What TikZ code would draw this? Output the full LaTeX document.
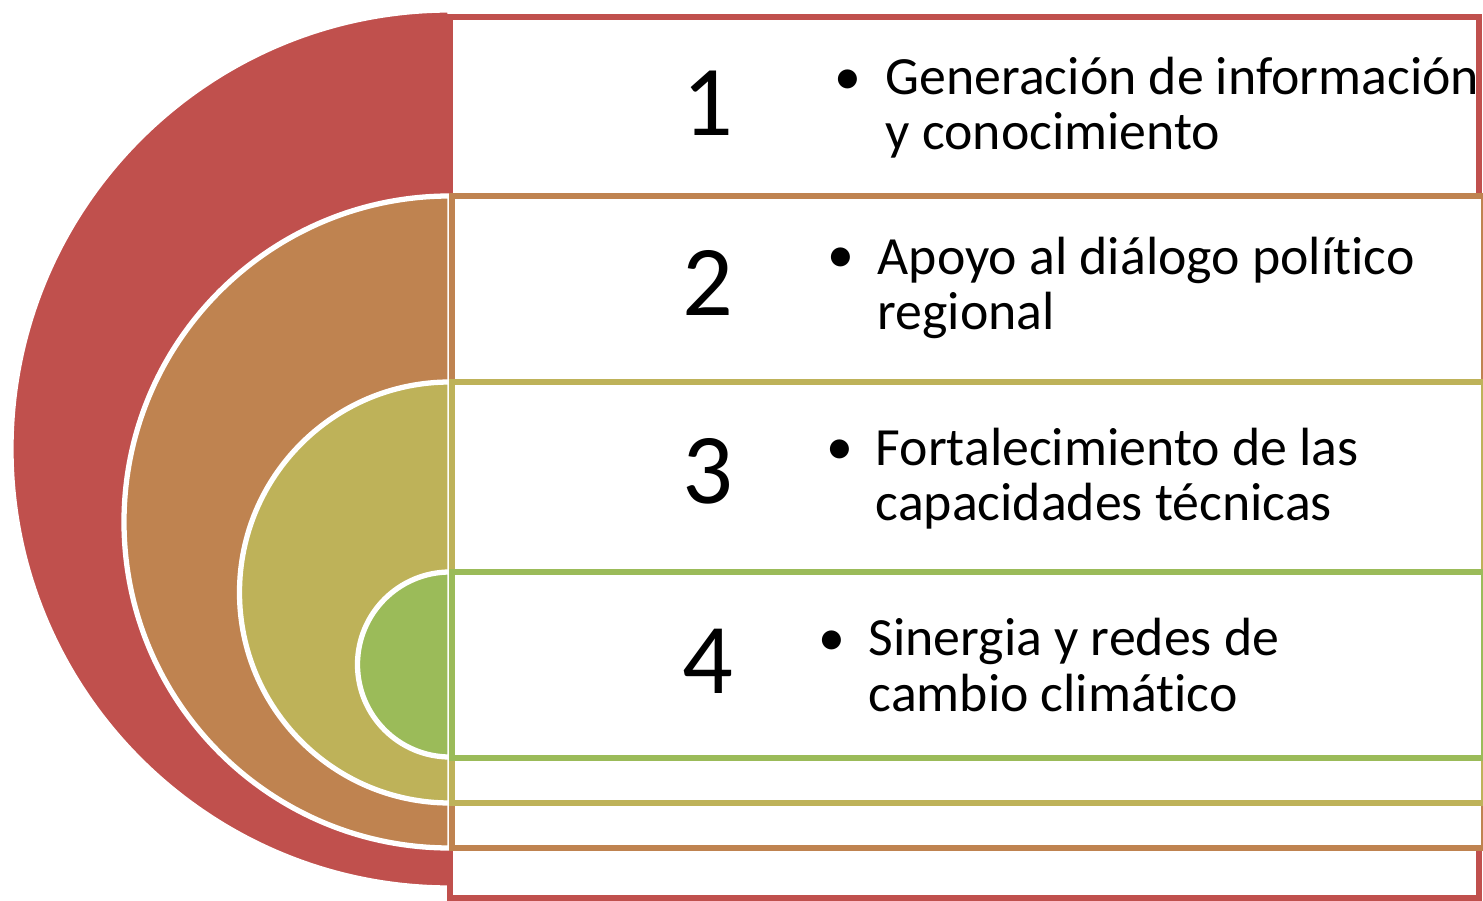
\documentclass[tikz,border=0pt]{standalone}
\usepackage{fontspec}
\setmainfont{Carlito}[Ligatures={NoCommon,NoContextual}]
\definecolor{lvlred}{RGB}{192,80,77}
\definecolor{lvlbrown}{RGB}{191,131,80}
\definecolor{lvlolive}{RGB}{190,178,89}
\definecolor{lvlgreen}{RGB}{155,187,89}

\begin{document}
\begin{tikzpicture}[x=0.01cm, y=-0.01cm,
      halfdisc/.style={draw=white, line width=1.5pt},
      box/.style={fill=white, line width=1.6pt},
      every node/.append style={inner sep=0pt}]
    \tikzstyle{num} = [font=\fontsize{28.5}{30}\selectfont]
    \tikzstyle{item} = [anchor=base west, align=left, font=\fontsize{15.3}{15.65}\selectfont]
    \tikzstyle{dot} = [anchor=base, font=\fontsize{15.3}{15.65}\selectfont]
    \useasboundingbox (0,0) rectangle (1483,901);
    % level 1
    \filldraw[halfdisc, fill=lvlred] (450,10) arc[start angle=270, end angle=90, radius=439] -- cycle;
    \draw[box, draw=lvlred] (450,17) rectangle (1479,898);
    % level 2
    \filldraw[halfdisc, fill=lvlbrown] (450,196) arc[start angle=270, end angle=90, radius=326] -- cycle;
    \draw[box, draw=lvlbrown] (452,196) rectangle (1484,848);
    % level 3
    \filldraw[halfdisc, fill=lvlolive] (450,382) arc[start angle=270, end angle=90, radius=210.5] -- cycle;
    \draw[box, draw=lvlolive] (452,382) rectangle (1484,803);
    % level 4
    \filldraw[halfdisc, fill=lvlgreen] (450,572) arc[start angle=270, end angle=90, radius=92.5] -- cycle;
    \draw[box, draw=lvlgreen] (452,572) rectangle (1484,758);
    % numbers
    \node (n1) [num] at (708,103) {1};
    \node (n2) [num] at (708,283) {2};
    \node (n3) [num] at (708,471) {3};
    \node (n4) [num] at (708,661) {4};
    % bullets and texts (base = last line)
    \node (b1) [dot] at (848,95) {\textbullet};
    \node (t1) [item] at (885,150) {Generación de información\\y conocimiento};
    \node (b2) [dot] at (841,273) {\textbullet};
    \node (t2) [item] at (877,330) {Apoyo al diálogo político\\regional};
    \node (b3) [dot] at (840,465) {\textbullet};
    \node (t3) [item] at (875,521) {Fortalecimiento de las\\capacidades técnicas};
    \node (b4) [dot] at (832,655) {\textbullet};
    \node (t4) [item] at (868,711) {Sinergia y redes de\\cambio climático};
\end{tikzpicture}
\end{document}
